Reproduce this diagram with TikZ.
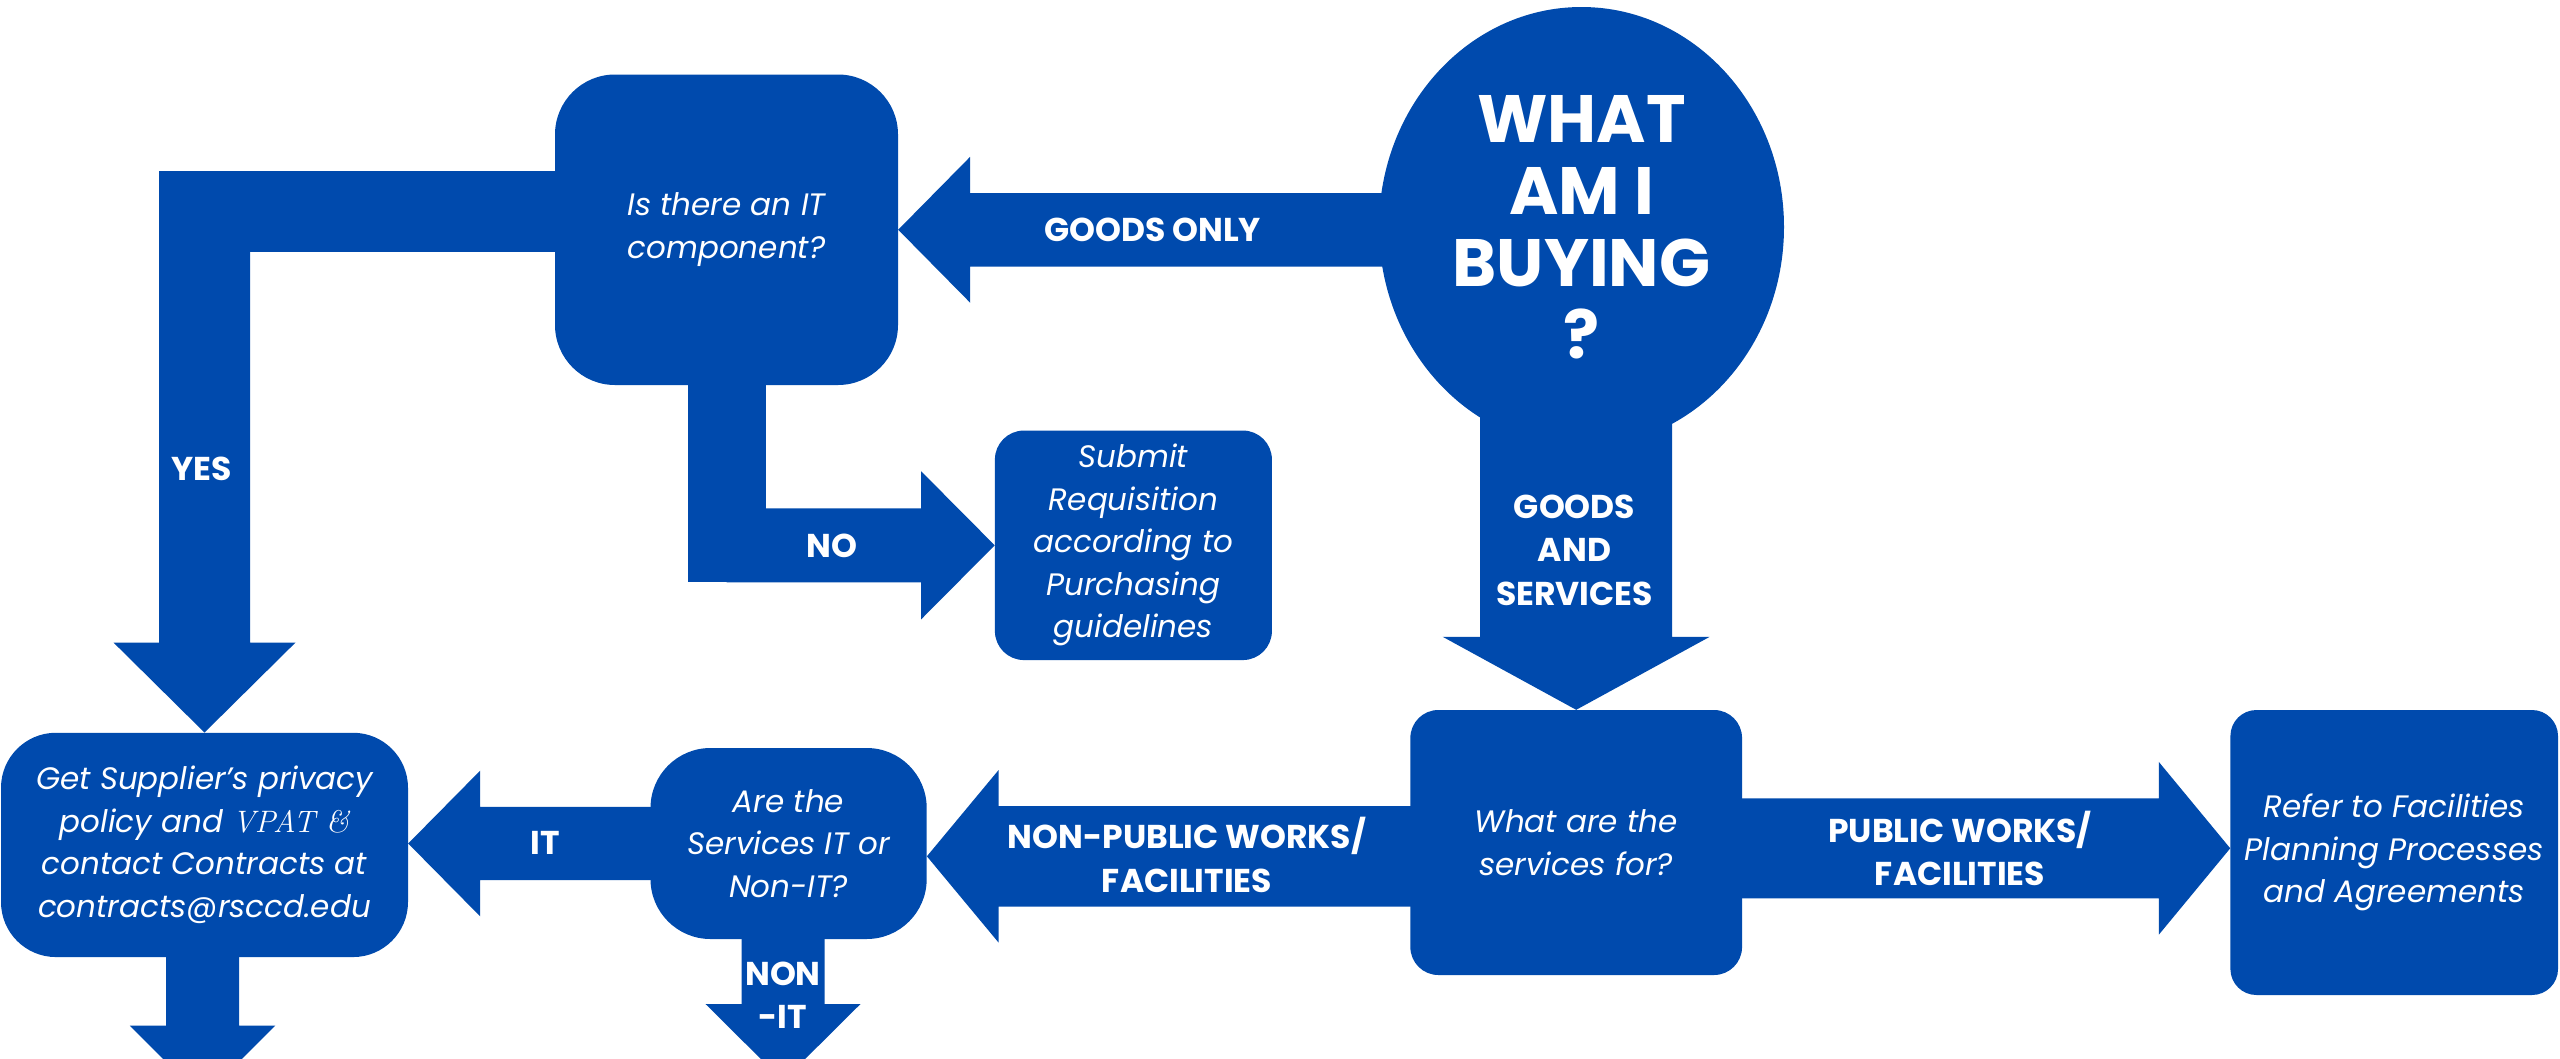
\documentclass[tikz,border=0pt]{standalone}
\usepackage{fontspec}
\setmainfont{Poppins}
\newfontfamily\lmserif{Latin Modern Roman}
\usetikzlibrary{calc,shapes.geometric,backgrounds}
\definecolor{cblue}{HTML}{004AAD}
% #1 tail, #2 tip, #3 shaft half width, #4 head half width, #5 head length
\newcommand\blockarrow[5]{%
  \coordinate (bah) at ($(#2)!#5!(#1)$);
  \fill[cblue] ($(#1)!#3!90:(#2)$) -- ($(bah)!#3!90:(#2)$) -- ($(bah)!#4!90:(#2)$) -- (#2)
    -- ($(bah)!#4!-90:(#2)$) -- ($(bah)!#3!-90:(#2)$) -- ($(#1)!#3!-90:(#2)$) -- cycle;}
\tikzset{
  box/.style={fill=cblue, text=white, inner sep=0pt, align=center,
    font=\fontsize{31}{42.5}\selectfont\itshape},
  lbl/.style={text=white, align=center, inner sep=0pt,
    font=\fontsize{33}{43.5}\selectfont\bfseries},
}
\begin{document}
\begin{tikzpicture}[x=1pt,y=-1pt]
\useasboundingbox (0,0) rectangle (2560,1058);
% nodes
\node[box, rounded corners=60pt, minimum width=343pt, minimum height=310.5pt] (itq) at (726.5,229.75) {Is there an IT\\component?};
\node[box, rounded corners=29pt, minimum width=277pt, minimum height=229.5pt] (sub) at (1133.4,545.3) {Submit\\Requisition\\according to\\Purchasing\\guidelines};
\node[ellipse, fill=cblue, text=white, inner sep=0pt, minimum width=405pt, minimum height=440pt, align=center,
  font=\fontsize{67}{72}\selectfont\bfseries] (what) at (1581.5,227) {WHAT\\AM I\\BUYING\\?};
\node[box, rounded corners=28pt, minimum width=331.7pt, minimum height=265pt] (svc) at (1576.2,842.5) {What are the\\services for?};
\node[box, rounded corners=26pt, minimum width=327.6pt, minimum height=285pt] (refer) at (2394.2,852.5) {Refer to Facilities\\Planning Processes\\and Agreements};
\node[box, rounded corners=60pt, minimum width=276.2pt, minimum height=191pt] (arq) at (788.6,843.5) {Are the\\Services IT or\\Non-IT?};
\node[box, rounded corners=55pt, minimum width=407pt, minimum height=224.3pt] (supp) at (204.5,844.9) {Get Supplier’s privacy\\policy and {\lmserif\itshape VPAT \&}\\contact Contracts at\\contracts@rsccd.edu};
% connector coordinates
\coordinate (goTail) at (what.center |- itq.east);
\coordinate (yesbend) at (supp.north |- 0,211.5);
\coordinate (nobend) at (itq.south |- sub.west);
\coordinate (gsTail) at (svc.north |- what.center);
\coordinate (npTail) at (svc.center |- 0,856.3);
\coordinate (npTip) at (arq.east |- npTail);
\coordinate (itTip) at (supp.east |- arq.center);
\coordinate (pwTail) at (svc.center |- 0,848.3);
\coordinate (pwTip) at (refer.west |- pwTail);
\coordinate (sdTail) at ($(supp.south)+(-2,-20)$);
\coordinate (sdTip) at (sdTail |- 0,1098);
\coordinate (niTail) at ($(arq.south)+(-5.6,-20)$);
\coordinate (niTip) at (niTail |- 0,1081);
\begin{scope}[on background layer]
\fill[white] (0,0) rectangle (2560,1058);
% GOODS ONLY
\blockarrow{goTail}{itq.east}{36.75pt}{73pt}{72pt}
% YES
\fill[cblue] ($(yesbend)+(-45.5,-40.5)$) rectangle ($(yesbend -| itq.center)+(0,40.5)$);
\blockarrow{yesbend}{supp.north}{45.5pt}{91pt}{90pt}
% NO
\fill[cblue] ($(itq.south)+(-39,-5)$) rectangle ($(nobend)+(39,37)$);
\blockarrow{nobend}{sub.west}{37pt}{74pt}{73.5pt}
% GOODS AND SERVICES
\blockarrow{gsTail}{svc.north}{96pt}{133.5pt}{73pt}
% NON-PUBLIC WORKS
\blockarrow{npTail}{npTip}{50.3pt}{86.3pt}{71.7pt}
% IT
\blockarrow{arq.center}{itTip}{36.7pt}{72.9pt}{72pt}
% PUBLIC WORKS
\blockarrow{pwTail}{pwTip}{50pt}{86.4pt}{71.4pt}
% down from supplier box
\blockarrow{sdTail}{sdTip}{36.5pt}{72.75pt}{72.3pt}
% NON-IT
\blockarrow{niTail}{niTip}{41.5pt}{77.5pt}{77pt}
\end{scope}
% labels
\node[lbl] (lyes) at (202,469) {YES};
\node[lbl] (lno) at (832,545.5) {NO};
\node[lbl] (lgo) at (1152.6,230) {GOODS ONLY};
\node[lbl] (lgs) at (1574.5,550) {GOODS\\AND\\SERVICES};
\node[lbl] (lit) at (545,843) {IT};
\node[lbl] (lnit) at (783,995) {NON\\-IT};
\node[lbl] (lnp) at (1187,855) {NON-PUBLIC WORKS/\\FACILITIES};
\node[lbl] (lpw) at (1960,848.3) {PUBLIC WORKS/\\FACILITIES};
\end{tikzpicture}
\end{document}
